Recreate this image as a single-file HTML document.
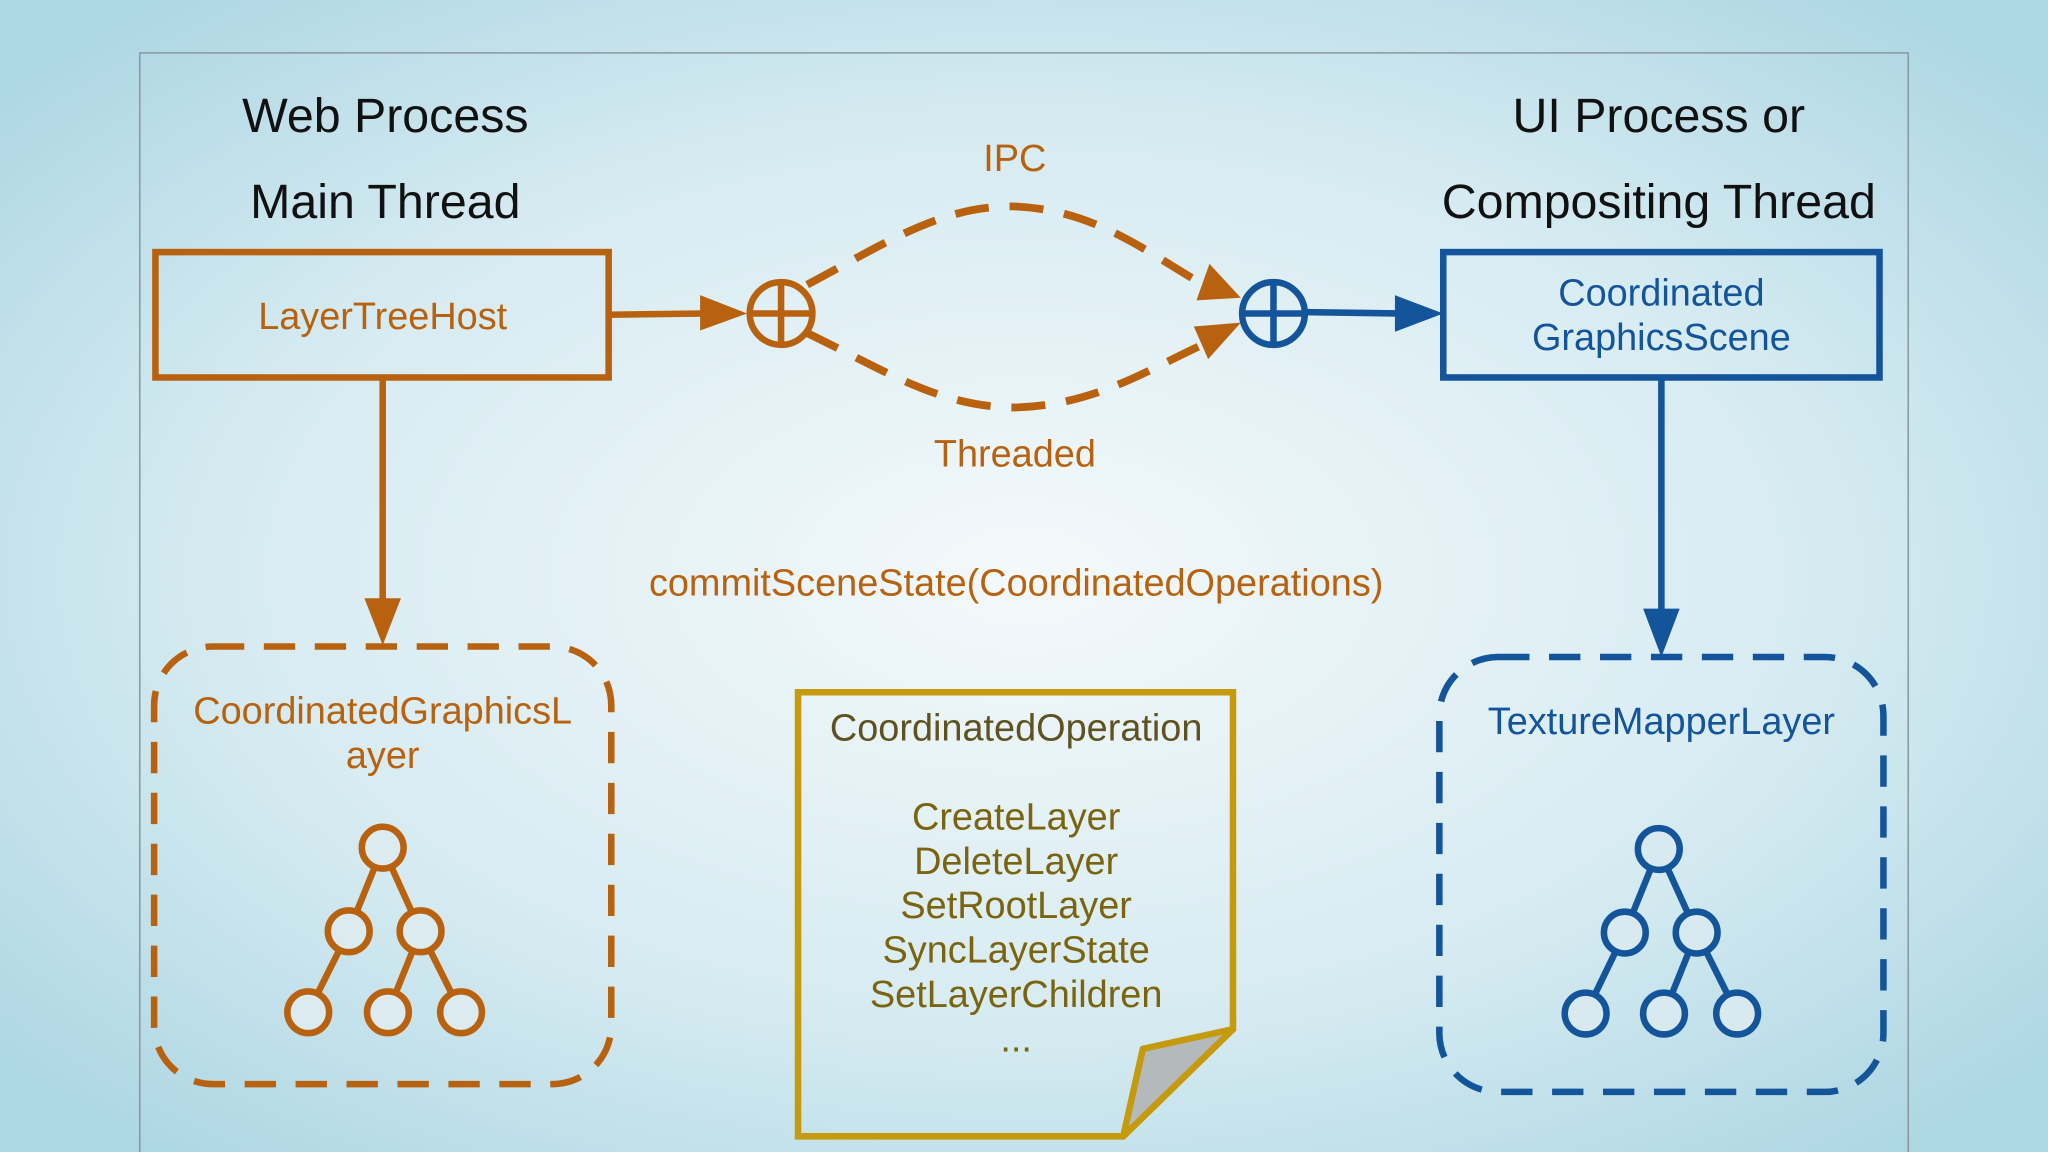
<!DOCTYPE html>
<html><head><meta charset="utf-8"><style>
html,body{margin:0;padding:0;width:2048px;height:1152px;overflow:hidden}
svg{display:block}
text{font-family:"Liberation Sans",sans-serif}
</style></head><body>
<svg width="2048" height="1152" viewBox="0 0 1568 882" xmlns="http://www.w3.org/2000/svg">
<defs>
<radialGradient id="bg" cx="50%" cy="50%" r="65%">
<stop offset="0" stop-color="#f4f9fb"/>
<stop offset="0.6" stop-color="#d6ebf1"/>
<stop offset="1" stop-color="#aed7e4"/>
</radialGradient>
</defs>
<rect width="1568" height="882" fill="url(#bg)"/>
<path d="M107 882 V40.5 H1461 V882" fill="none" stroke="#8a98a0" stroke-width="1.2"/>
<g font-size="37" fill="#111" text-anchor="middle">
<text x="295" y="101">Web Process</text>
<text x="295" y="167">Main Thread</text>
<text x="1270" y="101">UI Process or</text>
<text x="1270" y="167">Compositing Thread</text>
</g>
<g stroke="#b8620f" fill="none" stroke-width="5">
<rect x="119" y="193" width="347" height="96"/>
<line x1="466" y1="241" x2="540" y2="240"/>
<circle cx="598" cy="240" r="24"/>
<line x1="598" y1="216" x2="598" y2="264"/>
<line x1="574" y1="240" x2="622" y2="240"/>
<path d="M618 218 C680 185 720 158 775 158 C840 160 880 195 925 220" stroke-dasharray="26 16" stroke-width="6"/>
<path d="M618 255 C680 285 720 312 778 312 C840 310 880 282 925 262" stroke-dasharray="26 16" stroke-width="6"/>
<line x1="293" y1="289" x2="293" y2="462"/>
<rect x="118" y="495" width="350" height="335" rx="45" stroke-dasharray="24 15"/>
</g>
<g fill="#b8620f">
<polygon points="572,240 536,226 536,253"/>
<polygon points="950,228 916,230 926,202"/>
<polygon points="950,247 925,275 914,250"/>
<polygon points="293,494 279,458 307,458"/>
</g>
<g fill="#b8620f" font-size="29" text-anchor="middle">
<text x="293" y="252">LayerTreeHost</text>
<text x="777" y="131">IPC</text>
<text x="777" y="357">Threaded</text>
<text x="778" y="456">commitSceneState(CoordinatedOperations)</text>
<text x="293" y="554">CoordinatedGraphicsL</text>
<text x="293" y="588">ayer</text>
</g>
<g stroke="#b8620f" fill="none" stroke-width="5">
<line x1="293" y1="649" x2="267" y2="713"/><line x1="293" y1="649" x2="322" y2="713"/>
<line x1="267" y1="713" x2="236" y2="775"/><line x1="322" y1="713" x2="297" y2="775"/><line x1="322" y1="713" x2="353" y2="775"/>
</g>
<g stroke="#b8620f" fill="#dcebf0" stroke-width="5">
<circle cx="293" cy="649" r="16"/><circle cx="267" cy="713" r="16"/><circle cx="322" cy="713" r="16"/>
<circle cx="236" cy="775" r="16"/><circle cx="297" cy="775" r="16"/><circle cx="353" cy="775" r="16"/>
</g>
<g stroke="#13549a" fill="none" stroke-width="5">
<circle cx="975" cy="240" r="24"/>
<line x1="975" y1="216" x2="975" y2="264"/>
<line x1="951" y1="240" x2="999" y2="240"/>
<line x1="999" y1="239" x2="1072" y2="240"/>
<rect x="1105" y="193" width="334" height="96"/>
<line x1="1272" y1="289" x2="1272" y2="470"/>
<rect x="1102" y="503" width="340" height="333" rx="45" stroke-dasharray="24 15"/>
<line x1="1270" y1="650" x2="1244" y2="714"/><line x1="1270" y1="650" x2="1299" y2="714"/>
<line x1="1244" y1="714" x2="1214" y2="776"/><line x1="1299" y1="714" x2="1274" y2="776"/><line x1="1299" y1="714" x2="1330" y2="776"/>
</g>
<g fill="#13549a">
<polygon points="1105,240 1068,226 1068,254"/>
<polygon points="1272,503 1258,466 1286,466"/>
</g>
<g stroke="#13549a" fill="#d8e9ef" stroke-width="5">
<circle cx="1270" cy="650" r="16"/><circle cx="1244" cy="714" r="16"/><circle cx="1299" cy="714" r="16"/>
<circle cx="1214" cy="776" r="16"/><circle cx="1274" cy="776" r="16"/><circle cx="1330" cy="776" r="16"/>
</g>
<g fill="#13549a" font-size="29" text-anchor="middle">
<text x="1272" y="234">Coordinated</text>
<text x="1272" y="268">GraphicsScene</text>
<text x="1272" y="562">TextureMapperLayer</text>
</g>
<polygon points="611,530 944,530 944,788 860,870 611,870" fill="none" stroke="#c59a0c" stroke-width="5"/>
<polygon points="944,788 875,803 860,870" fill="#b4babb" stroke="#c59a0c" stroke-width="5" stroke-linejoin="round"/>
<g fill="#7a6410" font-size="29" text-anchor="middle">
<text x="778" y="567" fill="#5e5220">CoordinatedOperation</text>
<text x="778" y="635">CreateLayer</text>
<text x="778" y="669">DeleteLayer</text>
<text x="778" y="703">SetRootLayer</text>
<text x="778" y="737">SyncLayerState</text>
<text x="778" y="771">SetLayerChildren</text>
<text x="778" y="805">...</text>
</g>
</svg>
</body></html>
